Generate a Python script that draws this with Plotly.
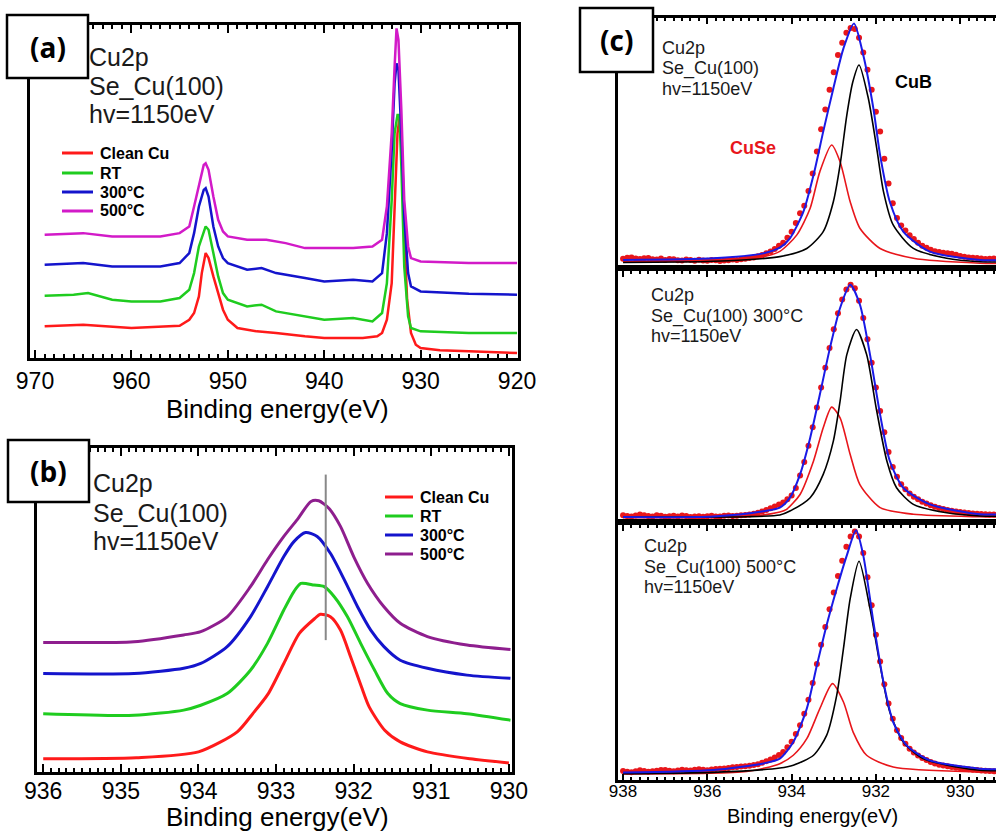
import plotly.graph_objects as go

FONT = "Liberation Sans, Arial, Helvetica, sans-serif"
W, H = 996, 832

# ---------------- Panel (a): Cu2p wide scan ----------------
A_CLEAN_E = [969, 965, 960, 955, 954, 953.5, 953, 952.7, 952.3, 952, 951.5, 951, 950.5, 950, 949, 947, 945, 942, 940, 936,
             934.5, 934, 933.5, 933, 932.7, 932.4, 932.2, 932, 931.7, 931.4, 931, 930.5, 930, 928, 925, 920]
A_CLEAN_I = [9.5, 10, 9, 9.7, 11.5, 13.5, 18.5, 25.5, 31.5, 30, 24.5, 19.5, 14.5, 11.5, 9, 8, 7.5, 6.5, 6, 6,
             6.5, 7.5, 11.5, 22.5, 42.5, 67.5, 72, 65.5, 37.5, 17.5, 7.5, 4, 3, 2.3, 2, 1.5]
A_RT_E = [969, 966, 964.5, 962, 960, 957, 955, 954, 953.5, 953, 952.3, 952, 951.5, 951, 950.5, 950, 948, 946.5, 945, 942,
          940, 937, 935, 934, 933.5, 933, 932.7, 932.4, 932.2, 932, 931.7, 931.3, 931, 930, 925, 920]
A_RT_I = [18.7, 19, 19.5, 17.5, 17, 17, 18, 20.5, 25.5, 33.5, 39.5, 38.5, 31.5, 24.5, 19.5, 17.5, 15.5, 16, 14, 12.5,
          11.5, 12, 11, 13.5, 22.5, 47.5, 67.5, 73, 73, 57.5, 27.5, 12.5, 9, 8, 7.5, 7.5]
A_300_E = [969, 965, 962, 960, 957, 955, 954, 953.5, 953, 952.5, 952.3, 952, 951.5, 951, 950.5, 950, 948, 946.5, 945, 942,
           940, 937, 935, 934, 933.5, 933, 932.7, 932.5, 932.3, 932, 931.7, 931.3, 931, 930, 925, 920]
A_300_I = [28, 28.5, 27.5, 27.5, 27.5, 28.5, 31.5, 37.5, 45.5, 50.5, 51, 48.5, 39.5, 33.5, 30, 28.5, 26.5, 27, 25.5, 24,
           23, 23.5, 23, 25.5, 37.5, 62.5, 82.5, 88.5, 86.5, 67.5, 42.5, 25.5, 21.5, 20, 19.3, 19]
A_500_E = [969, 965, 962, 960, 957, 955, 954, 953.5, 953, 952.5, 952.3, 952, 951.5, 951, 950.5, 950, 948, 946, 944, 942,
           940, 937, 935, 934, 933.5, 933, 932.7, 932.5, 932.3, 932, 931.7, 931.3, 931, 930, 925, 920]
A_500_I = [37, 37.5, 36.5, 36.5, 36.5, 37.5, 39.5, 45.5, 52, 58, 58.5, 56.5, 48.5, 41.5, 38, 36.5, 35.5, 35.5, 34.5, 33,
           33, 33, 33.5, 35.5, 45.5, 67.5, 87.5, 99, 95.5, 74.5, 47.5, 33.5, 30, 29, 28.5, 28.5]

# ---------------- Panel (b): Cu2p3/2 zoom ----------------
B_CLEAN_E = [936.0, 934.8, 934.0, 933.5, 933.3, 933.1, 932.9, 932.7, 932.5, 932.43, 932.3, 932.17, 932.04, 931.9, 931.8,
             931.6, 931.4, 931.05, 930.5, 930.0]
B_CLEAN_I = [4.1, 4.4, 6.2, 12.4, 18.0, 24.2, 33.5, 42.8, 47.4, 48.7, 47.9, 43.8, 35.6, 26.3, 20.1,
             12.9, 9.3, 6.2, 4.1, 2.8]
B_RT_E = [936.0, 934.83, 934.19, 933.97, 933.63, 933.33, 933.11, 932.9, 932.77, 932.68, 932.51, 932.38, 932.25, 932.08,
          931.91, 931.73, 931.56, 931.4, 931.05, 930.54, 929.98]
B_RT_I = [18.0, 17.5, 19.1, 20.6, 24.2, 31.4, 39.7, 50.0, 55.7, 58.2, 57.7, 57.2, 54.1, 47.9,
          39.7, 31.4, 24.2, 21.1, 19.1, 18.0, 16.0]
B_300_E = [936.0, 934.83, 934.19, 933.97, 933.63, 933.33, 933.11, 932.9, 932.77, 932.62, 932.47, 932.3, 932.12, 931.95,
           931.78, 931.61, 931.4, 931.05, 930.54, 929.98]
B_300_I = [30.4, 30.4, 32.0, 33.5, 38.7, 47.9, 57.2, 66.5, 71.1, 73.9, 72.7, 67.5, 59.3, 51.0,
           43.8, 38.7, 34.5, 32.0, 29.9, 28.9]
B_500_E = [936.0, 934.83, 934.19, 933.97, 933.63, 933.33, 933.11, 932.9, 932.73, 932.55, 932.45, 932.32, 932.17, 932.0,
           931.82, 931.61, 931.4, 931.05, 930.54, 929.98]
B_500_I = [40.0, 40.2, 42.3, 43.3, 47.9, 57.2, 65.5, 72.7, 77.8, 83.5, 83.7, 81.4, 75.8, 66.5,
           58.2, 51.0, 45.9, 41.8, 39.2, 37.8]
B_REF_E = [932.36, 932.36]
B_REF_I = [91.8, 40.7]

# ---------------- Panel (c): peak fits ----------------
C_DOT_E = [938.0, 937.9, 937.8, 937.7, 937.6, 937.5, 937.4, 937.3, 937.2, 937.1, 937.0, 936.9, 936.8, 936.7, 936.6,
           936.5, 936.4, 936.3, 936.2, 936.1, 936.0, 935.9, 935.8, 935.7, 935.6, 935.5, 935.4, 935.3, 935.2, 935.1,
           935.0, 934.9, 934.8, 934.7, 934.6, 934.5, 934.4, 934.3, 934.2, 934.1, 934.0, 933.9, 933.8, 933.7, 933.6,
           933.5, 933.4, 933.3, 933.2, 933.1, 933.0, 932.9, 932.8, 932.7, 932.6, 932.5, 932.4, 932.3, 932.2, 932.1,
           932.0, 931.9, 931.8, 931.7, 931.6, 931.5, 931.4, 931.3, 931.2, 931.1, 931.0, 930.9, 930.8, 930.7, 930.6,
           930.5, 930.4, 930.3, 930.2, 930.1, 930.0, 929.9, 929.8, 929.7, 929.6, 929.5, 929.4, 929.3, 929.2]
C1_DOT_I = [2.5, 2.9, 3.0, 2.6, 2.4, 2.7, 2.8, 2.3, 2.2, 2.6, 2.0, 2.4, 2.3, 1.9, 1.8,
            2.2, 2.0, 1.7, 2.1, 1.8, 1.7, 2.0, 1.9, 1.6, 1.8, 1.9, 2.2, 2.0, 2.3, 2.5,
            2.8, 3.0, 3.5, 4.0, 4.8, 5.5, 6.5, 7.8, 9.0, 11.0, 13.5, 17.0, 21.0, 24.0, 30.0,
            37.0, 46.0, 55.0, 63.0, 71.0, 78.0, 85.0, 90.0, 94.0, 96.0, 95.5, 92.0, 86.0, 79.0, 71.0,
            62.0, 54.0, 43.0, 33.0, 25.0, 19.0, 16.0, 14.0, 12.0, 10.5, 9.0, 7.8, 7.0, 6.2, 5.6,
            5.3, 5.0, 4.8, 4.6, 4.2, 3.6, 3.3, 3.0, 2.9, 2.8, 2.6, 2.4, 2.5, 2.6]
C2_DOT_I = [1.5, 1.2, 1.0, 1.4, 1.8, 1.5, 1.2, 1.0, 1.5, 1.3, 0.9, 1.1, 1.3, 1.0, 1.4,
            1.2, 0.8, 1.0, 1.1, 0.9, 1.1, 1.3, 1.0, 1.0, 1.3, 1.4, 1.2, 1.3, 1.5, 1.6,
            1.8, 2.1, 2.5, 3.0, 3.6, 4.3, 5.0, 5.8, 6.7, 8.0, 9.5, 12.5, 17.5, 23.0, 29.5,
            37.0, 45.0, 53.0, 61.0, 69.0, 76.5, 83.0, 88.5, 92.5, 94.5, 93.0, 88.0, 81.0, 72.5, 63.0,
            53.0, 43.5, 35.0, 27.0, 21.0, 17.0, 14.0, 12.0, 10.3, 9.0, 8.0, 7.0, 6.2, 5.5, 4.9,
            4.4, 4.0, 3.6, 3.3, 3.0, 2.8, 2.6, 2.4, 2.2, 2.1, 2.0, 1.9, 1.8, 1.8]
C3_DOT_I = [3.5, 3.2, 3.0, 3.4, 3.8, 3.5, 3.2, 3.4, 3.6, 3.9, 3.9, 3.6, 3.4, 3.7, 4.0,
            3.8, 3.7, 4.0, 4.2, 4.0, 3.8, 4.1, 4.3, 4.4, 4.5, 4.7, 5.0, 5.1, 5.3, 5.4,
            5.6, 5.9, 6.2, 6.8, 7.4, 8.0, 8.8, 9.8, 11.0, 12.8, 15.0, 18.0, 21.5, 26.0, 31.5,
            38.0, 45.5, 53.0, 60.0, 67.0, 73.5, 80.0, 86.0, 91.5, 95.5, 97.5, 95.5, 89.0, 79.5, 68.5,
            57.0, 46.5, 37.5, 30.0, 24.0, 19.5, 16.5, 14.2, 12.3, 10.8, 9.6, 8.6, 7.8, 7.1, 6.5,
            6.0, 5.7, 5.4, 5.1, 4.8, 4.6, 4.4, 4.2, 4.0, 3.9, 3.7, 3.6, 3.5, 3.4]

C1_FIT_E = [938.0, 935.86, 934.67, 934.28, 934.04, 933.72, 933.48, 933.25, 933.01, 932.77, 932.52, 932.30, 932.06,
            931.90, 931.67, 931.35, 930.72, 929.53, 929.15]
C1_FIT_I = [2.0, 2.7, 4.7, 7.0, 10.8, 21.6, 36.4, 54.0, 71.5, 87.7, 97.8, 85.0, 63.4, 44.5, 25.6, 13.5, 5.4, 2.0, 1.9]
C1_CUB_E = [938.0, 935.86, 934.28, 933.64, 933.25, 933.01, 932.85, 932.69, 932.55, 932.40, 932.18, 931.98, 931.82,
            931.59, 931.11, 930.32, 929.53, 929.15]
C1_CUB_I = [1.0, 1.5, 3.4, 6.7, 13.5, 25.6, 40.5, 60.7, 74.0, 81.0, 67.5, 47.2, 29.7, 16.2, 6.7, 2.7, 1.3, 1.2]
C1_CUSE_E = [938.0, 935.86, 934.67, 934.28, 933.88, 933.56, 933.33, 933.05, 932.85, 932.61, 932.38, 931.90, 931.11,
             929.53, 929.15]
C1_CUSE_I = [1.4, 1.8, 3.4, 5.5, 12.1, 23.0, 37.8, 48.6, 41.8, 25.6, 14.9, 6.7, 2.7, 0.7, 0.6]

C2_FIT_E = [938.0, 935.86, 934.67, 934.28, 934.04, 933.80, 933.56, 933.33, 933.09, 932.85, 932.61, 932.38, 932.14,
            931.90, 931.67, 931.35, 930.72, 929.53, 929.15]
C2_FIT_I = [0.8, 1.0, 3.1, 4.6, 8.6, 18.0, 32.7, 50.2, 69.0, 85.1, 94.5, 86.5, 66.3, 42.1, 23.4, 12.6, 5.9, 1.9, 1.8]
C2_CUB_E = [938.0, 935.07, 934.28, 934.04, 933.56, 933.25, 933.01, 932.85, 932.69, 932.46, 932.22, 931.98, 931.74,
            931.51, 931.11, 930.32, 929.53, 929.15]
C2_CUB_I = [0.8, 0.9, 1.6, 3.2, 8.6, 18.0, 31.4, 47.5, 66.3, 76.4, 66.3, 43.5, 23.4, 12.6, 5.9, 2.5, 1.2, 1.1]
C2_CUSE_E = [938.0, 935.07, 934.28, 934.12, 933.80, 933.48, 933.25, 933.05, 932.85, 932.61, 932.38, 931.90, 931.11,
             929.53, 929.15]
C2_CUSE_I = [0.5, 1.0, 2.8, 3.9, 9.9, 23.4, 36.8, 45.1, 40.8, 26.0, 13.9, 4.6, 1.9, 0.9, 0.8]

C3_FIT_E = [938.0, 935.86, 934.67, 934.28, 933.96, 933.64, 933.40, 933.17, 932.93, 932.69, 932.47, 932.30, 932.06,
            931.82, 931.59, 931.27, 930.72, 929.53, 929.15]
C3_FIT_I = [2.9, 3.9, 6.5, 8.4, 14.9, 28.0, 45.0, 60.7, 75.0, 88.1, 97.9, 88.1, 62.0, 38.4, 22.7, 13.6, 7.7, 4.4, 4.2]
C3_CUB_E = [938.0, 935.86, 934.28, 933.96, 933.48, 933.17, 932.93, 932.77, 932.61, 932.40, 932.14, 931.90, 931.67,
            931.35, 930.88, 930.08, 929.53, 929.15]
C3_CUB_I = [2.5, 3.0, 4.7, 5.8, 9.7, 17.5, 33.2, 51.5, 71.1, 85.8, 67.2, 45.0, 26.7, 14.9, 8.4, 5.1, 3.8, 3.6]
C3_CUSE_E = [938.0, 935.07, 934.28, 933.96, 933.64, 933.33, 933.03, 932.77, 932.54, 932.22, 931.59, 929.53, 929.15]
C3_CUSE_I = [2.4, 3.3, 6.4, 9.7, 16.2, 28.0, 37.8, 30.6, 18.8, 9.7, 5.1, 3.1, 3.0]

LEGEND_LABELS = ["Clean Cu", "RT", "300°C", "500°C"]
AXIS_TITLE = "Binding energy(eV)"
A_COLORS = ["#FF1A1A", "#1FCC1F", "#1414CC", "#D21AC8"]
B_COLORS = ["#FF1A1A", "#1FCC1F", "#1414CC", "#8E1E8E"]
C_RED, C_BLUE, C_BLACK = "#E8161B", "#1A1AE6", "#000000"


def fx(p):
    return p / W


def fy(p):
    return 1 - p / H


fig = go.Figure()


def add_line(x, y, color, width, xa, ya, name, shape="spline"):
    fig.add_trace(go.Scatter(x=x, y=y, mode="lines", name=name, showlegend=False,
                             line=dict(color=color, width=width, shape=shape, smoothing=0.7),
                             xaxis=xa, yaxis=ya))


for (e, i), c, lab in zip([(A_CLEAN_E, A_CLEAN_I), (A_RT_E, A_RT_I), (A_300_E, A_300_I), (A_500_E, A_500_I)],
                          A_COLORS, LEGEND_LABELS):
    add_line(e, i, c, 2.5, "x", "y", lab, shape="linear")

for (e, i), c, lab in zip([(B_CLEAN_E, B_CLEAN_I), (B_RT_E, B_RT_I), (B_300_E, B_300_I), (B_500_E, B_500_I)],
                          B_COLORS, LEGEND_LABELS):
    add_line(e, i, c, 3, "x2", "y2", lab)
add_line(B_REF_E, B_REF_I, "#888888", 2, "x2", "y2", "ref", shape="linear")

for k, (dots, fit, cub, cuse) in enumerate([
        (C1_DOT_I, (C1_FIT_E, C1_FIT_I), (C1_CUB_E, C1_CUB_I), (C1_CUSE_E, C1_CUSE_I)),
        (C2_DOT_I, (C2_FIT_E, C2_FIT_I), (C2_CUB_E, C2_CUB_I), (C2_CUSE_E, C2_CUSE_I)),
        (C3_DOT_I, (C3_FIT_E, C3_FIT_I), (C3_CUB_E, C3_CUB_I), (C3_CUSE_E, C3_CUSE_I))]):
    xa, ya = "x%d" % (k + 3), "y%d" % (k + 3)
    fig.add_trace(go.Scatter(x=C_DOT_E, y=dots, mode="markers", showlegend=False, name="data",
                             marker=dict(color=C_RED, size=6), xaxis=xa, yaxis=ya))
    add_line(cuse[0], cuse[1], C_RED, 1.6, xa, ya, "CuSe")
    add_line(cub[0], cub[1], C_BLACK, 1.6, xa, ya, "CuB")
    add_line(fit[0], fit[1], C_BLUE, 2, xa, ya, "fit")


def yax(top, bottom, anchor, mirror=True):
    return go.layout.YAxis(domain=[fy(bottom), fy(top)], range=[0, 100], anchor=anchor, showticklabels=False,
                           ticks="", mirror=mirror, fixedrange=True, showline=True, linecolor="black", linewidth=3,
                           showgrid=False, zeroline=False, automargin=False)


def xax(dom, rng, anchor, dtick, minor_dtick, ticklen, fs, side="bottom", labels=True, mirror="allticks",
        ticks="inside", standoff=0, with_minor=True):
    d = dict(
        domain=dom, range=rng, anchor=anchor, side=side, showticklabels=labels, mirror=mirror,
        tickmode="linear", tick0=930, dtick=dtick, ticks=ticks, ticklen=ticklen, tickwidth=2, tickcolor="black",
        tickfont=dict(size=fs, color="black", family=FONT), showline=True, linecolor="black", linewidth=3,
        showgrid=False, zeroline=False, automargin=False, ticklabelstandoff=standoff)
    if with_minor:
        d["minor"] = dict(dtick=minor_dtick, tick0=930, ticks="inside", ticklen=max(3, ticklen // 2), tickwidth=1.5,
                          tickcolor="black", showgrid=False)
    return d


fig.update_layout(
    width=W, height=H, margin=dict(l=0, r=0, t=0, b=0, pad=0, autoexpand=False), paper_bgcolor="white",
    plot_bgcolor="white", showlegend=False, font=dict(family=FONT, color="black"),
    xaxis=xax([fx(30), fx(518)], [970.52, 919.9], "y", 10, 1, 8, 23, standoff=0),
    yaxis=yax(25, 358, "x"),
    xaxis2=xax([fx(37), fx(512)], [936.08, 929.96], "y2", 1, 0.1, 8, 23, standoff=-4),
    yaxis2=yax(448, 772, "x2"),
    xaxis3=xax([fx(618), 1.0], [938.12, 929.15], "y3", 2, 0.2, 6, 17, side="top", labels=False, mirror=True),
    yaxis3=yax(18, 265, "x3", mirror=False),
    xaxis4=xax([fx(618), 1.0], [938.12, 929.15], "y4", 2, 0.2, 6, 17, side="top", labels=False, mirror=True),
    yaxis4=yax(271, 519, "x4", mirror=False),
    xaxis5=xax([fx(618), 1.0], [938.12, 929.15], "y5", 2, 0.2, 6, 17, standoff=-6),
    yaxis5=yax(525, 780, "x5", mirror=False),
)

shapes = []
annotations = []


def box(x0, y0, x1, y1, label):
    shapes.append(dict(type="rect", xref="paper", yref="paper", x0=fx(x0), x1=fx(x1), y0=fy(y1), y1=fy(y0),
                       fillcolor="white", line=dict(color="black", width=2.5), layer="above"))
    annotations.append(dict(text="<b>%s</b>" % label, x=fx((x0 + x1) / 2), y=fy((y0 + y1) / 2), xref="paper",
                            yref="paper", showarrow=False, xanchor="center", yanchor="middle",
                            font=dict(family="Open Sans, sans-serif", size=28, color="black")))


def text(x, y, s, size, color="#1a1a1a", bold=False, anchor="left"):
    annotations.append(dict(text=("<b>%s</b>" % s) if bold else s, x=fx(x), y=fy(y), xref="paper", yref="paper",
                            showarrow=False, xanchor=anchor, yanchor="middle", borderpad=0,
                            font=dict(family=FONT, size=size, color=color)))


box(7, 15, 88, 78, "(a)")
box(8, 440, 89, 502, "(b)")
box(580, 8, 653, 72, "(c)")

text(277, 409, AXIS_TITLE, 26, color="black", anchor="center")
text(277, 817, AXIS_TITLE, 26, color="black", anchor="center")
text(812, 816, AXIS_TITLE, 20, color="black", anchor="center")

for (x, ys, lines, size) in [
        (88, [57, 86, 114], ["Cu2p", "Se_Cu(100)", "hv=1150eV"], 25),
        (92, [483, 513, 541], ["Cu2p", "Se_Cu(100)", "hv=1150eV"], 25),
        (661, [48, 69, 89], ["Cu2p", "Se_Cu(100)", "hv=1150eV"], 18),
        (650, [295, 316, 336], ["Cu2p", "Se_Cu(100) 300°C", "hv=1150eV"], 18),
        (643, [546, 567, 587], ["Cu2p", "Se_Cu(100) 500°C", "hv=1150eV"], 18)]:
    for yv, s in zip(ys, lines):
        text(x, yv, s, size)

text(913, 82, "CuB", 18, color="black", bold=True, anchor="center")
text(753, 148, "CuSe", 18, color=C_RED, bold=True, anchor="center")

for (lx0, lx1, tx, ys, cols) in [(62, 93, 99, [153, 173, 192, 211], A_COLORS),
                                 (385, 413, 419, [497, 516, 535, 554], B_COLORS)]:
    for yv, c, lab in zip(ys, cols, LEGEND_LABELS):
        shapes.append(dict(type="line", xref="paper", yref="paper", x0=fx(lx0), x1=fx(lx1), y0=fy(yv), y1=fy(yv),
                           line=dict(color=c, width=3)))
        text(tx, yv, lab, 16, color="black", bold=True)

fig.update_layout(shapes=shapes, annotations=annotations)
fig.write_html("out.html", config={"displayModeBar": False},
               post_script="document.body.style.margin='0';document.body.style.padding='0';")
